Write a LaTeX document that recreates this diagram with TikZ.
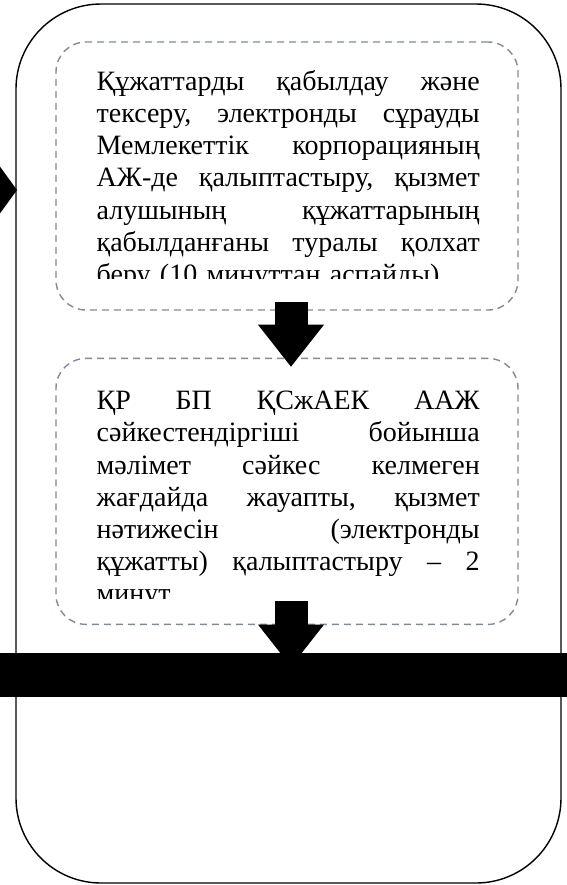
\documentclass[tikz,border=0pt]{standalone}
\usepackage{fontspec}
\setmainfont{Liberation Serif}
\usetikzlibrary{positioning,arrows.meta}

\definecolor{dashgray}{RGB}{128,138,152}

\tikzset{
  outerbox/.style={draw, line width=0.7pt, rounded corners=42.5pt, minimum width=272.5pt, minimum height=439.5pt, inner sep=0},
  stepbox/.style={draw=dashgray, line width=0.7pt, dash pattern=on 3.5pt off 2.5pt, rounded corners=15pt, minimum width=231pt, minimum height=134pt, inner sep=0},
  steptext/.style={anchor=base west, inner sep=0, text width=191.5pt, font=\fontsize{14}{16.1}\selectfont},
  blockarrow/.style={line width=16.5pt, -{Triangle[length=21pt,width=33pt,line width=0pt]}}
}

\begin{document}
\begin{tikzpicture}[x=0.5pt, y=-0.5pt]
  \useasboundingbox (0,0) rectangle (567,885);

  % Define nodes
  \node[outerbox] (outer) at (288.5,443.5) {};
  \node[stepbox] (box1) at (287,176) {};
  \node[stepbox, minimum height=133pt, below=23.5pt of box1] (box2) {};

  % Texts, cut at the bottom
  \begin{scope}
    \clip (box1.north west) rectangle ([yshift=16pt]box1.south east);
    \node[steptext] (text1) at ([xshift=20.5pt,yshift=-24.5pt]box1.north west) {Құжаттарды \hfill қабылдау \hfill және\\
      тексеру, \hfill электронды \hfill сұрауды\\
      Мемлекеттік \hfill корпорацияның\\
      АЖ-де \hfill қалыптастыру, \hfill қызмет\\
      алушының \hfill құжаттарының\\
      қабылданғаны \hfill туралы \hfill қолхат\\
      беру (10 минуттан аспайды)};
  \end{scope}
  \begin{scope}
    \clip (box2.north west) rectangle ([yshift=13.5pt]box2.south east);
    \node[steptext] (text2) at ([xshift=20.5pt,yshift=-26pt]box2.north west) {ҚР \hfill БП \hfill ҚСжАЕК \hfill ААЖ\\
      сәйкестендіргіші \hfill бойынша\\
      мәлімет \hfill сәйкес \hfill келмеген\\
      жағдайда \hfill жауапты, \hfill қызмет\\
      нәтижесін \hfill (электронды\\
      құжатты) \hfill қалыптастыру \hfill – \hfill 2\\
      минут.};
  \end{scope}

  \node[fill, minimum width=283.5pt, minimum height=22pt, inner sep=0] (band) at (283.5,675) {};
  \coordinate (entry) at (17,190);
  \coordinate (incoming) at (-30,190);

  % Connect the nodes
  \draw[blockarrow] ([xshift=2pt,yshift=4.5pt]box1.south) -- ([xshift=2pt,yshift=-4.5pt]box2.north);
  \draw[blockarrow] ([xshift=2pt,yshift=12pt]box2.south) -- ([xshift=3.75pt,yshift=-7pt]band.north);
  \begin{scope}
    \clip (0,0) rectangle (567,885);
    \draw[line width=16.5pt, -{Triangle[length=12pt,width=33pt,line width=0pt]}] (incoming) -- (entry);
  \end{scope}
\end{tikzpicture}
\end{document}
